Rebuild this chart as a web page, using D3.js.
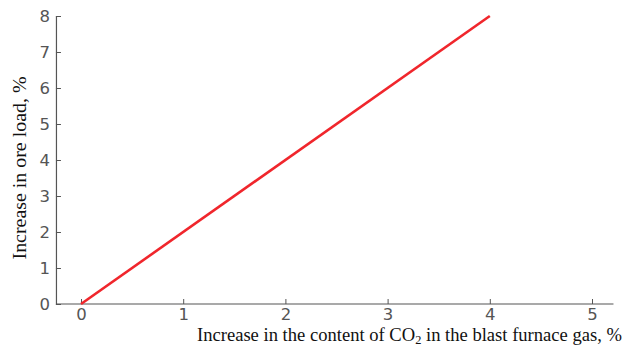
<!DOCTYPE html>
<html>
<head>
<meta charset="utf-8">
<script src="https://cdn.jsdelivr.net/npm/d3@7"></script>
<style>
  body { margin: 0; background: #fff; }
  .tick text { font-family: "DejaVu Sans", sans-serif; fill: #555; }
  .title { font-family: "Liberation Serif", "Times New Roman", serif; fill: #111; }
</style>
</head>
<body>
<svg id="chart" width="625" height="347"></svg>
<script>
// Data
const xValues = [0, 4];
const yValues = [0, 8];
const xTicks = [0, 1, 2, 3, 4, 5];
const yTicks = [0, 1, 2, 3, 4, 5, 6, 7, 8];

const svg = d3.select('#chart');

const x = d3.scaleLinear().domain([0, 5]).range([81, 592]);
const y = d3.scaleLinear().domain([0, 8]).range([304, 16]);

// x axis, spans a bit past the data domain
const xAxis = svg.append('g')
  .attr('transform', `translate(0, ${y(0)})`)
  .call(d3.axisBottom(x).tickValues(xTicks).tickSize(-5).tickPadding(4).tickFormat(d3.format('d')));
xAxis.select('.domain').attr('d', `M${x(-0.245)},0H${x(5.21)}`);

const yAxis = svg.append('g')
  .attr('transform', `translate(${x(-0.245)}, 0)`)
  .call(d3.axisLeft(y).tickValues(yTicks).tickSize(-5).tickPadding(6).tickFormat(d3.format('d')));

svg.selectAll('.domain').attr('stroke', '#555').attr('stroke-width', 1.2);
svg.selectAll('.tick line').attr('stroke', '#555');
svg.selectAll('.tick text').attr('font-size', 16.5);

// the line
const line = d3.line().x(d => x(d[0])).y(d => y(d[1]));
svg.append('path')
  .datum(xValues.map((v, i) => [v, yValues[i]]))
  .attr('d', line)
  .attr('fill', 'none')
  .attr('stroke', '#f0262c')
  .attr('stroke-width', 2.6);

// axis titles
svg.append('text')
  .attr('class', 'title')
  .attr('transform', 'translate(26, 168) rotate(-90)')
  .attr('text-anchor', 'middle')
  .attr('font-size', 18)
  .attr('textLength', 183)
  .attr('lengthAdjust', 'spacingAndGlyphs')
  .text('Increase in ore load, %');

const xt = svg.append('text')
  .attr('class', 'title')
  .attr('x', 197)
  .attr('y', 341)
  .attr('font-size', 18)
  .attr('textLength', 425)
  .attr('lengthAdjust', 'spacingAndGlyphs');
xt.append('tspan').text('Increase in the content of CO');
xt.append('tspan').attr('font-size', 12).attr('dy', 3).text('2');
xt.append('tspan').attr('dy', -3).text(' in the blast furnace gas, %');
</script>
</body>
</html>
